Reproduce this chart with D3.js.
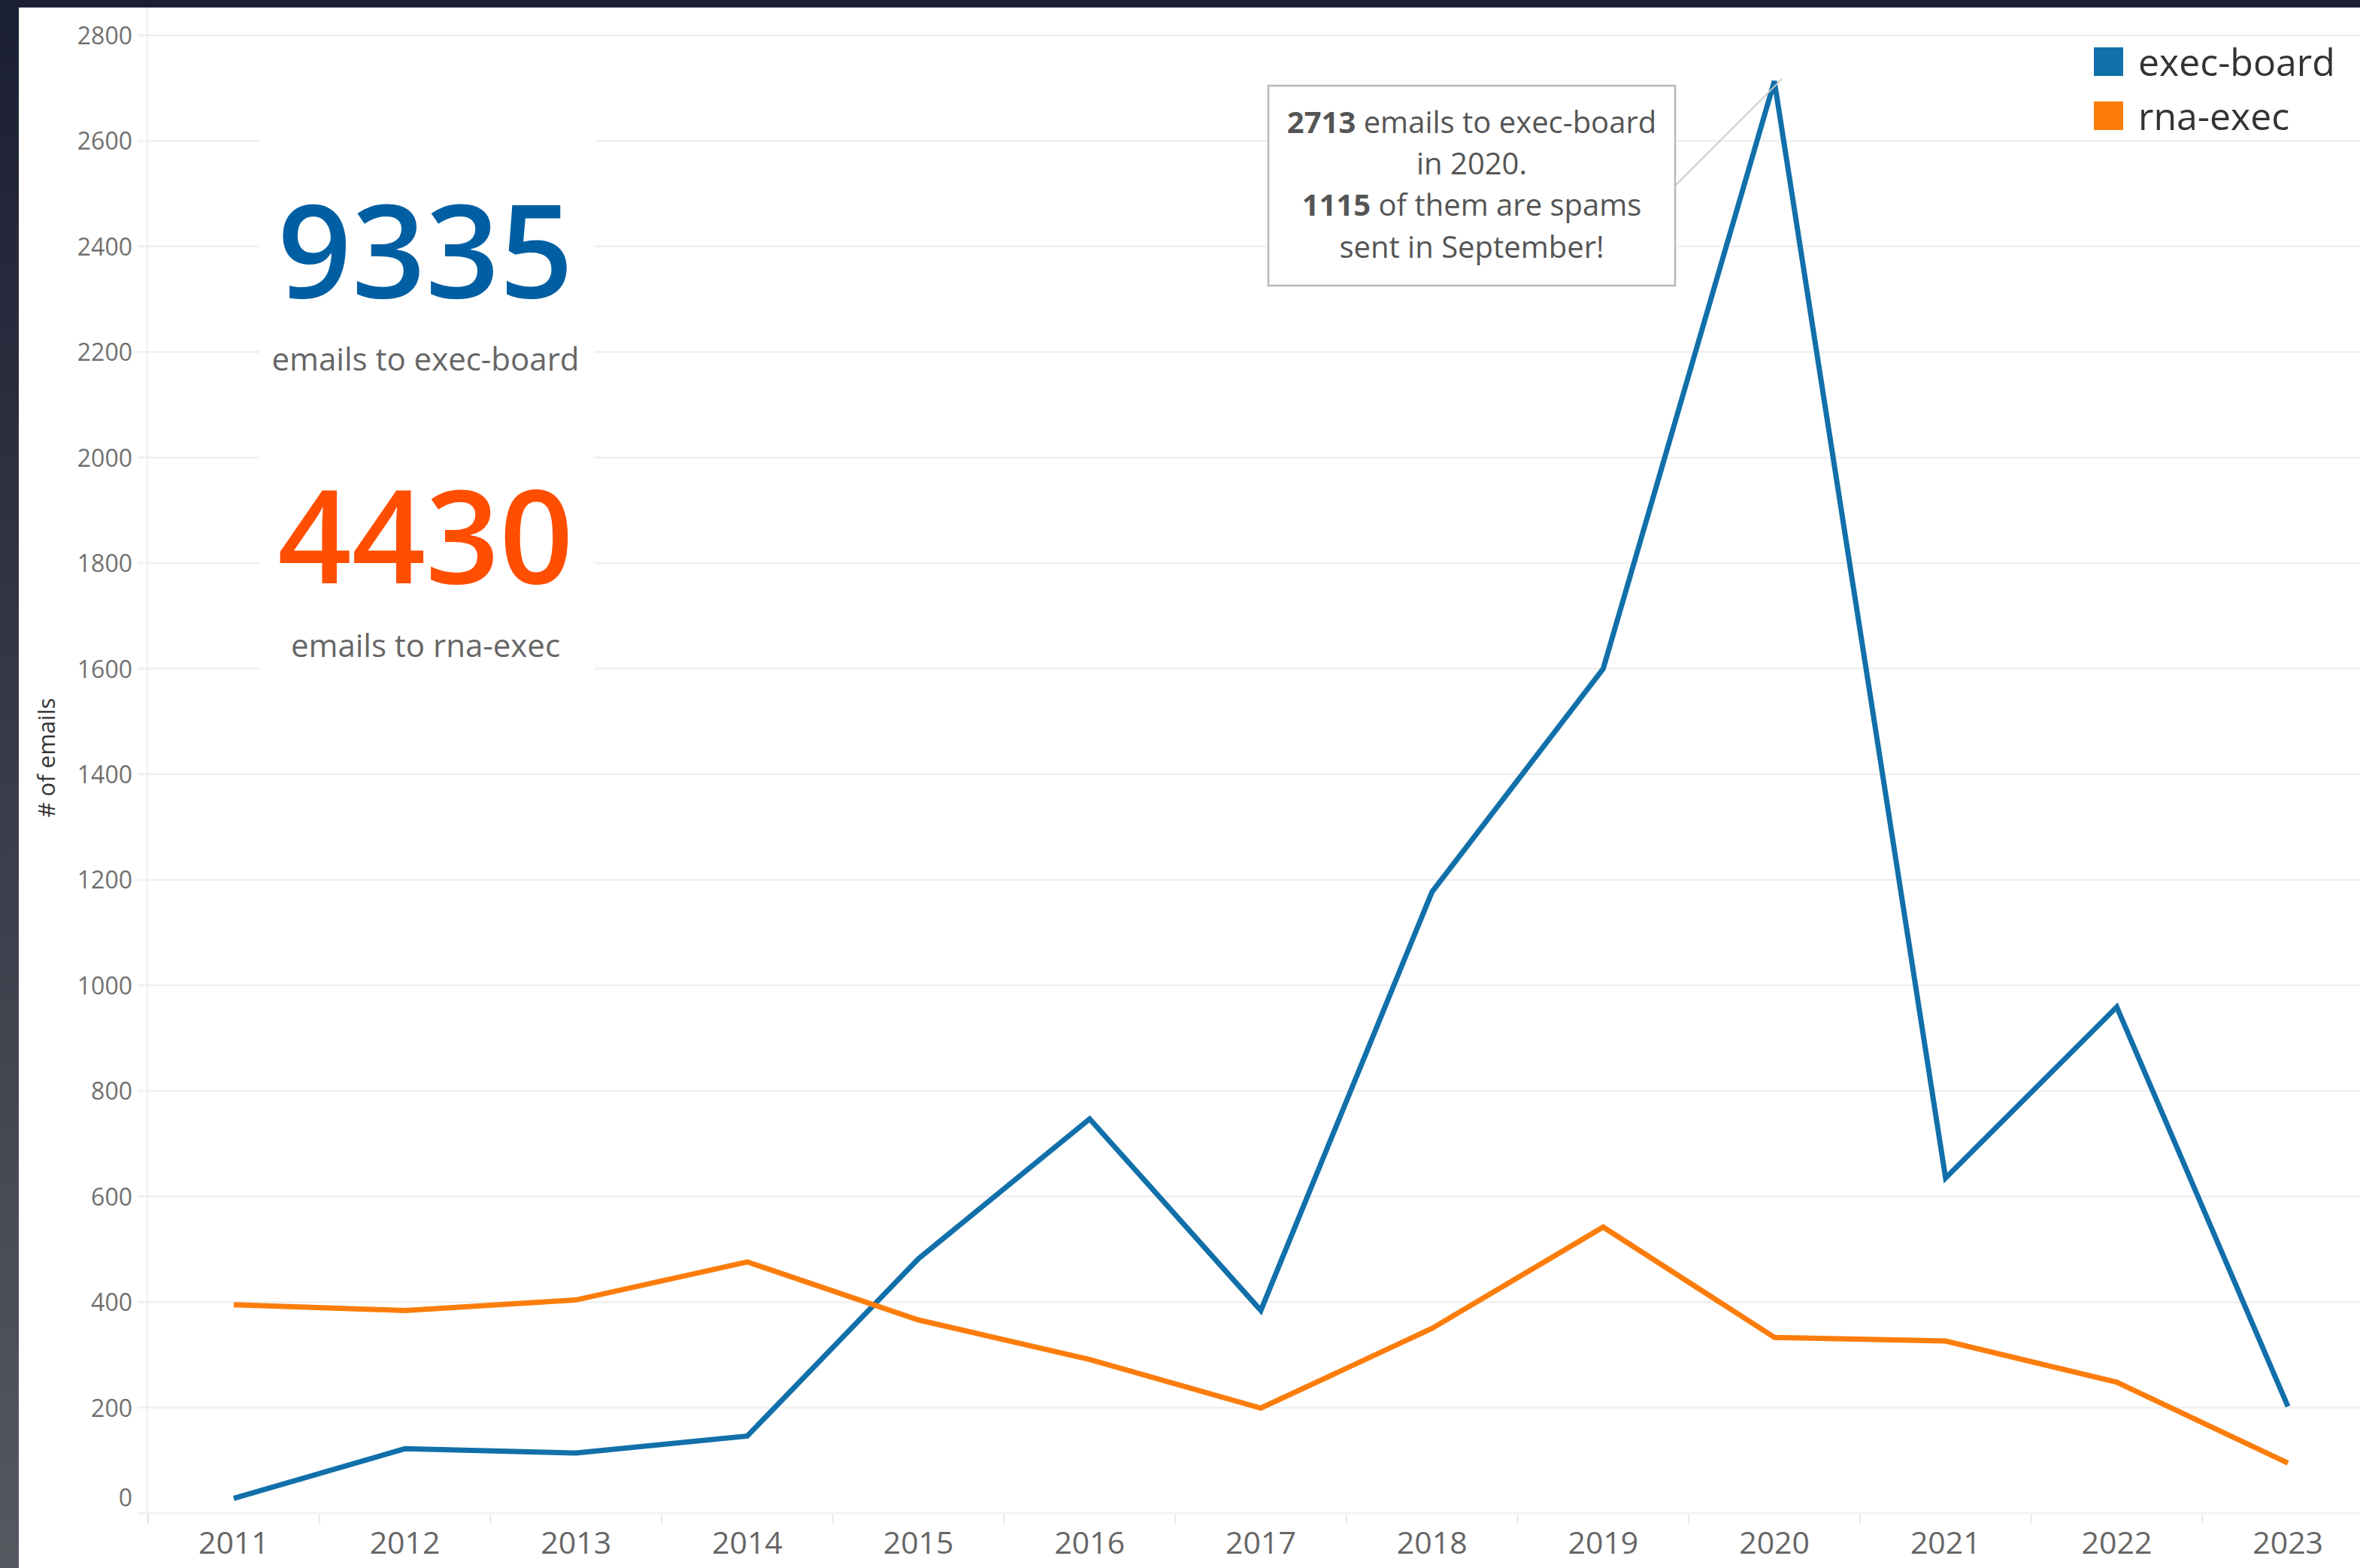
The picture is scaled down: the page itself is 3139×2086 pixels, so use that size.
<!DOCTYPE html>
<html>
<head>
<meta charset="utf-8">
<script src="https://cdn.jsdelivr.net/npm/d3@7"></script>
<style>
  html, body { margin: 0; padding: 0; background: #ffffff; }
  svg { display: block; }
</style>
</head>
<body>
<div id="chart"></div>
<script>
// ---------- data ----------
const years = [2011, 2012, 2013, 2014, 2015, 2016, 2017, 2018, 2019, 2020, 2021, 2022, 2023];
const execBoard = [28, 122, 114, 146, 482, 747, 384, 1177, 1600, 2713, 635, 959, 202];
const rnaExec = [395, 384, 404, 476, 366, 291, 199, 350, 542, 333, 326, 248, 95];
const yTicks = [0, 200, 400, 600, 800, 1000, 1200, 1400, 1600, 1800, 2000, 2200, 2400, 2600, 2800];
const seriesNames = ["exec-board", "rna-exec"];
const seriesColors = ["#1170aa", "#fc7d0b"];
const kpiValues = ["9335", "4430"];
const kpiLabels = ["emails to exec-board", "emails to rna-exec"];
const kpiColors = ["#005fa2", "#ff4e00"];
const annotationLines = [
  [{t: "2713", b: true}, {t: " emails to exec-board", b: false}],
  [{t: "in 2020.", b: false}],
  [{t: "1115", b: true}, {t: " of them are spams", b: false}],
  [{t: "sent in September!", b: false}]
];
const yTitle = "# of emails";

// ---------- layout ----------
const W = 3139, H = 2086;
const FONT = "'Open Sans', 'Noto Sans', sans-serif";

const svg = d3.select("#chart").append("svg")
  .attr("width", W).attr("height", H)
  .attr("viewBox", `0 0 ${W} ${H}`);

// frame
const defs = svg.append("defs");
const grad = defs.append("linearGradient").attr("id", "leftGrad")
  .attr("x1", 0).attr("y1", 0).attr("x2", 0).attr("y2", 1);
grad.append("stop").attr("offset", "0%").attr("stop-color", "#1b1f33");
grad.append("stop").attr("offset", "100%").attr("stop-color", "#56585f");
svg.append("rect").attr("x", 0).attr("y", 0).attr("width", W).attr("height", H).attr("fill", "#ffffff");

const x = d3.scaleBand().domain(years).range([197, 3157]).padding(0);
const bw = x.bandwidth();
const cx = d => x(d) + bw / 2;
const y = d3.scaleLinear().domain([0, 2800]).range([2013, 47]);

// gridlines
svg.append("g").selectAll("line").data(yTicks).join("line")
  .attr("x1", 183).attr("x2", W)
  .attr("y1", d => y(d)).attr("y2", d => y(d))
  .attr("stroke", "#efefef").attr("stroke-width", 2.5);

// y-axis faint line
svg.append("line").attr("x1", 196).attr("x2", 196).attr("y1", 10).attr("y2", 2026)
  .attr("stroke", "#f0f0f0").attr("stroke-width", 2);

// x tick marks at band edges
svg.append("g").selectAll("line").data(years).join("line")
  .attr("x1", d => x(d)).attr("x2", d => x(d))
  .attr("y1", 2015).attr("y2", 2027)
  .attr("stroke", "#e6e6e6").attr("stroke-width", 2);

// y axis labels
const yAxis = svg.append("g").attr("transform", "translate(176,0)")
  .call(d3.axisLeft(y).tickValues(yTicks).tickSize(0).tickPadding(0).tickFormat(d3.format("d")));
yAxis.select(".domain").remove();
yAxis.selectAll("text")
  .attr("font-family", FONT).attr("font-size", 32).attr("fill", "#707070")
  .attr("dy", "0.36em");
yAxis.selectAll(".tick").filter(d => d === 0).select("text").attr("y", -21);

// x axis labels
const xAxis = svg.append("g").attr("transform", "translate(0,2038)")
  .call(d3.axisBottom(x).tickSize(0).tickPadding(0));
xAxis.select(".domain").remove();
xAxis.selectAll("text")
  .attr("font-family", FONT).attr("font-size", 41).attr("fill", "#666666")
  .attr("dy", "0.71em");

// y title
svg.append("text")
  .attr("transform", "translate(73,1008) rotate(-90)")
  .attr("text-anchor", "middle")
  .attr("font-family", FONT).attr("font-size", 31).attr("fill", "#333333")
  .text(yTitle);

// KPI white backing
svg.append("rect").attr("x", 345).attr("y", 115).attr("width", 446).attr("height", 845)
  .attr("fill", "#ffffff");

const kpiNumY = [396, 776];
const kpiLabY = [493, 874];
kpiValues.forEach((v, i) => {
  svg.append("text").attr("x", 566).attr("y", kpiNumY[i])
    .attr("text-anchor", "middle")
    .attr("font-family", FONT).attr("font-size", 172).attr("font-weight", 600)
    .attr("fill", kpiColors[i]).text(v);
  svg.append("text").attr("x", 566).attr("y", kpiLabY[i])
    .attr("text-anchor", "middle")
    .attr("font-family", FONT).attr("font-size", 42)
    .attr("fill", "#666666").text(kpiLabels[i]);
});

// lines
const seriesData = [execBoard, rnaExec];
const line = d3.line().x((d, i) => cx(years[i])).y(d => y(d));
seriesData.forEach((vals, i) => {
  svg.append("path").datum(vals)
    .attr("d", line)
    .attr("fill", "none")
    .attr("stroke", seriesColors[i])
    .attr("stroke-width", 7)
    .attr("stroke-linejoin", "miter");
});

// annotation
const peakIdx = years.indexOf(2020);
const boxX = 1687, boxY = 114, boxW = 541, boxH = 266;
svg.append("line")
  .attr("x1", boxX + boxW).attr("y1", 247)
  .attr("x2", cx(2020) + 10).attr("y2", y(execBoard[peakIdx]) - 3)
  .attr("stroke", "#cccccc").attr("stroke-width", 2);
svg.append("rect").attr("x", boxX).attr("y", boxY).attr("width", boxW).attr("height", boxH)
  .attr("fill", "#ffffff").attr("stroke", "#b8b8b8").attr("stroke-width", 2.5);
const annBase = [177, 232, 287, 343];
annotationLines.forEach((parts, i) => {
  const t = svg.append("text").attr("x", boxX + boxW / 2).attr("y", annBase[i])
    .attr("text-anchor", "middle")
    .attr("font-family", FONT).attr("font-size", 40).attr("fill", "#555555");
  parts.forEach(p => {
    t.append("tspan").attr("font-weight", p.b ? 700 : 400).text(p.t);
  });
});

// legend
const legY = [63, 135];
seriesNames.forEach((n, i) => {
  svg.append("rect").attr("x", 2785).attr("y", legY[i]).attr("width", 39).attr("height", 38)
    .attr("fill", seriesColors[i]);
  svg.append("text").attr("x", 2844).attr("y", legY[i] + 38)
    .attr("font-family", FONT).attr("font-size", 50).attr("fill", "#333333")
    .text(n);
});

// frame bars
svg.append("rect").attr("x", 0).attr("y", 0).attr("width", 25).attr("height", H).attr("fill", "url(#leftGrad)");
svg.append("rect").attr("x", 0).attr("y", 0).attr("width", W).attr("height", 10).attr("fill", "#1b1f33");
</script>
</body>
</html>
